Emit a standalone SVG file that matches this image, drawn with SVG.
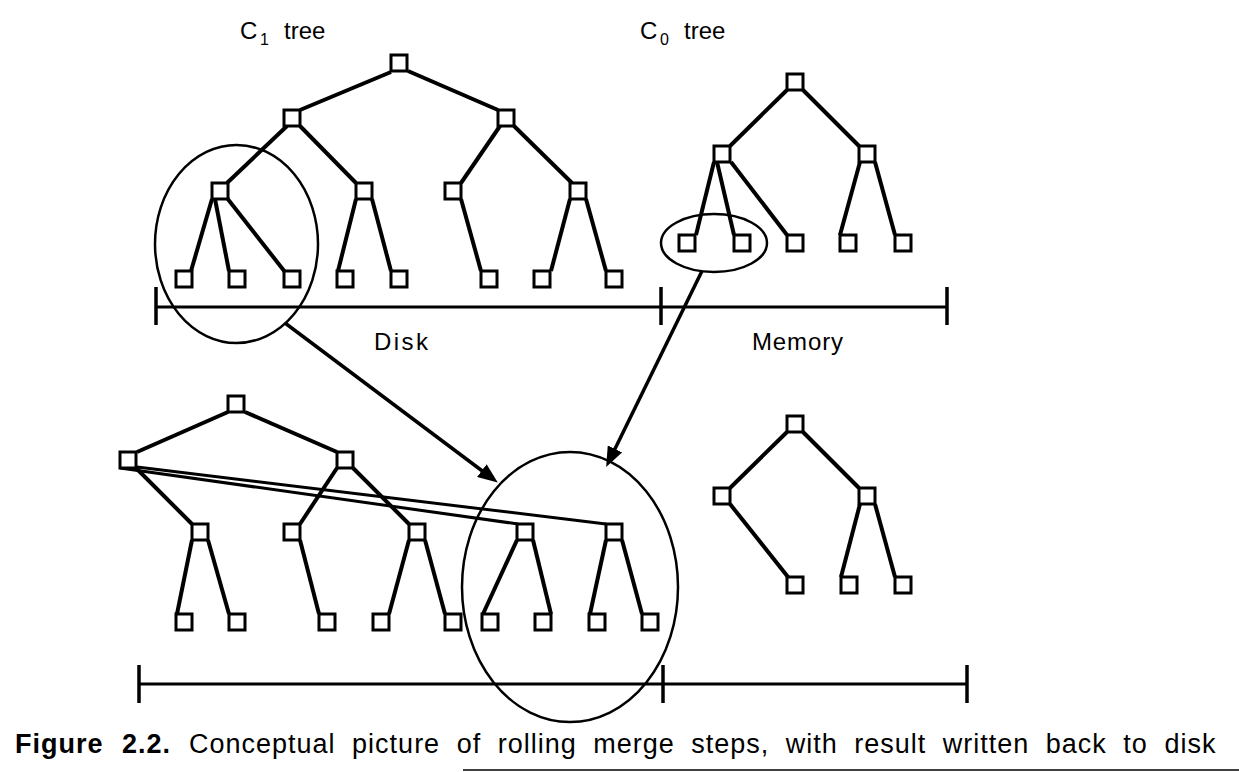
<svg xmlns="http://www.w3.org/2000/svg" width="1239" height="772" viewBox="0 0 1239 772">
<style>
.n{fill:#fff;stroke:#000;stroke-width:3}
.e{stroke:#000;stroke-width:4;stroke-linecap:butt;fill:none}
.e2{stroke:#000;stroke-width:3;fill:none}
.bar{stroke:#000;stroke-width:3;fill:none}
.tick{stroke:#000;stroke-width:3.5;fill:none}
.ell{fill:none;stroke:#000;stroke-width:2.5}
.arr{stroke:#000;stroke-width:3.5;fill:none;marker-end:url(#ah)}
.t{font-family:"Liberation Sans",Arial,sans-serif;font-size:24px;fill:#000}
.sub{font-family:"Liberation Sans",Arial,sans-serif;font-size:16px;fill:#000}
.cap{font-family:"Liberation Sans",Arial,sans-serif;font-size:27px;fill:#000;letter-spacing:1px}
</style>
<defs>
<marker id="ah" markerUnits="userSpaceOnUse" markerWidth="20" markerHeight="16" viewBox="0 0 20 16" refX="9" refY="8" orient="auto">
<path d="M0,0 L20,8 L0,16 z" fill="#000"/>
</marker>
</defs>

<g id="labels">
<text class="t" x="240" y="39">C</text><text class="sub" x="260" y="45">1</text><text class="t" x="284" y="39">tree</text>
<text class="t" x="640" y="39">C</text><text class="sub" x="660" y="45">0</text><text class="t" x="684" y="39">tree</text>
<text class="t" x="374" y="350" textLength="54" lengthAdjust="spacing">Disk</text>
<text class="t" x="752" y="350" textLength="91" lengthAdjust="spacing">Memory</text>
</g>

<g id="connectors">
<!-- top C1 tree -->
<line class="e" x1="391" y1="72" x2="300" y2="110"/>
<line class="e" x1="408" y1="71" x2="498" y2="110"/>
<line class="e" x1="287" y1="126" x2="227" y2="183"/>
<line class="e" x1="300" y1="126" x2="356" y2="183"/>
<line class="e" x1="500" y1="126" x2="461" y2="183"/>
<line class="e" x1="514" y1="126" x2="572" y2="183"/>
<line class="e" x1="212" y1="199" x2="191" y2="271"/>
<line class="e" x1="215" y1="199" x2="229" y2="271"/>
<line class="e" x1="227" y1="198" x2="285" y2="272"/>
<line class="e" x1="356" y1="199" x2="338" y2="271"/>
<line class="e" x1="372" y1="199" x2="391" y2="271"/>
<line class="e" x1="461" y1="199" x2="481" y2="271"/>
<line class="e" x1="570" y1="199" x2="551" y2="271"/>
<line class="e" x1="586" y1="199" x2="606" y2="271"/>
<!-- top C0 tree -->
<line class="e" x1="787" y1="90" x2="730" y2="146"/>
<line class="e" x1="803" y1="90" x2="859" y2="146"/>
<line class="e" x1="714" y1="162" x2="696" y2="235"/>
<line class="e" x1="717" y1="162" x2="734" y2="235"/>
<line class="e" x1="731" y1="162" x2="787" y2="235"/>
<line class="e" x1="860" y1="162" x2="840" y2="235"/>
<line class="e" x1="875" y1="162" x2="895" y2="235"/>
<!-- bottom merged tree -->
<line class="e" x1="228" y1="412" x2="137" y2="452"/>
<line class="e" x1="245" y1="412" x2="337" y2="452"/>
<line class="e" x1="136" y1="468" x2="192" y2="524"/>
<line class="e2" x1="120" y1="468" x2="518" y2="524"/>
<line class="e2" x1="137" y1="467" x2="606" y2="524"/>
<line class="e" x1="337" y1="468" x2="300" y2="524"/>
<line class="e" x1="353" y1="468" x2="409" y2="524"/>
<line class="e" x1="192" y1="540" x2="177" y2="614"/>
<line class="e" x1="208" y1="540" x2="229" y2="614"/>
<line class="e" x1="300" y1="540" x2="319" y2="614"/>
<line class="e" x1="409" y1="540" x2="389" y2="614"/>
<line class="e" x1="425" y1="540" x2="445" y2="614"/>
<line class="e" x1="517" y1="540" x2="483" y2="614"/>
<line class="e" x1="533" y1="540" x2="551" y2="614"/>
<line class="e" x1="606" y1="540" x2="590" y2="614"/>
<line class="e" x1="622" y1="540" x2="642" y2="614"/>
<!-- bottom C0 tree -->
<line class="e" x1="787" y1="432" x2="730" y2="488"/>
<line class="e" x1="803" y1="432" x2="859" y2="488"/>
<line class="e" x1="730" y1="504" x2="788" y2="577"/>
<line class="e" x1="860" y1="504" x2="841" y2="577"/>
<line class="e" x1="875" y1="504" x2="895" y2="577"/>
<!-- arrows -->
<line class="arr" x1="285" y1="323" x2="489" y2="476"/>
<line class="arr" x1="702" y1="271" x2="611" y2="457"/>
</g>

<g id="scales">
<line class="bar" x1="156" y1="307" x2="947" y2="307"/>
<line class="tick" x1="156" y1="287" x2="156" y2="325"/>
<line class="tick" x1="661" y1="287" x2="661" y2="325"/>
<line class="tick" x1="947" y1="287" x2="947" y2="325"/>
<line class="bar" x1="139" y1="684" x2="967" y2="684"/>
<line class="tick" x1="139" y1="665" x2="139" y2="703"/>
<line class="tick" x1="663" y1="665" x2="663" y2="703"/>
<line class="tick" x1="967" y1="665" x2="967" y2="703"/>
</g>

<g id="c1-tree">
<g id="c1-root"><rect class="n" x="391" y="55" width="16" height="16"/></g>
<g id="c1-a"><rect class="n" x="284" y="110" width="16" height="16"/></g>
<g id="c1-b"><rect class="n" x="498" y="110" width="16" height="16"/></g>
<g id="c1-a1"><rect class="n" x="212" y="183" width="16" height="16"/></g>
<g id="c1-a2"><rect class="n" x="356" y="183" width="16" height="16"/></g>
<g id="c1-b1"><rect class="n" x="445" y="183" width="16" height="16"/></g>
<g id="c1-b2"><rect class="n" x="570" y="183" width="16" height="16"/></g>
<g id="c1-l1"><rect class="n" x="176" y="271" width="16" height="16"/></g>
<g id="c1-l2"><rect class="n" x="229" y="271" width="16" height="16"/></g>
<g id="c1-l3"><rect class="n" x="284" y="271" width="16" height="16"/></g>
<g id="c1-l4"><rect class="n" x="337" y="271" width="16" height="16"/></g>
<g id="c1-l5"><rect class="n" x="391" y="271" width="16" height="16"/></g>
<g id="c1-l6"><rect class="n" x="481" y="271" width="16" height="16"/></g>
<g id="c1-l7"><rect class="n" x="534" y="271" width="16" height="16"/></g>
<g id="c1-l8"><rect class="n" x="606" y="271" width="16" height="16"/></g>
</g>

<g id="c0-tree">
<g id="c0-root"><rect class="n" x="787" y="74" width="16" height="16"/></g>
<g id="c0-a"><rect class="n" x="714" y="146" width="16" height="16"/></g>
<g id="c0-b"><rect class="n" x="859" y="146" width="16" height="16"/></g>
<g id="c0-l1"><rect class="n" x="679" y="235" width="16" height="16"/></g>
<g id="c0-l2"><rect class="n" x="734" y="235" width="16" height="16"/></g>
<g id="c0-l3"><rect class="n" x="787" y="235" width="16" height="16"/></g>
<g id="c0-l4"><rect class="n" x="840" y="235" width="16" height="16"/></g>
<g id="c0-l5"><rect class="n" x="895" y="235" width="16" height="16"/></g>
</g>

<g id="merged-tree">
<g id="m-root"><rect class="n" x="228" y="396" width="16" height="16"/></g>
<g id="m-a"><rect class="n" x="120" y="452" width="16" height="16"/></g>
<g id="m-b"><rect class="n" x="337" y="452" width="16" height="16"/></g>
<g id="m-c1"><rect class="n" x="192" y="524" width="16" height="16"/></g>
<g id="m-c2"><rect class="n" x="284" y="524" width="16" height="16"/></g>
<g id="m-c3"><rect class="n" x="409" y="524" width="16" height="16"/></g>
<g id="m-c4"><rect class="n" x="517" y="524" width="16" height="16"/></g>
<g id="m-c5"><rect class="n" x="606" y="524" width="16" height="16"/></g>
<g id="m-l1"><rect class="n" x="176" y="614" width="16" height="16"/></g>
<g id="m-l2"><rect class="n" x="229" y="614" width="16" height="16"/></g>
<g id="m-l3"><rect class="n" x="319" y="614" width="16" height="16"/></g>
<g id="m-l4"><rect class="n" x="373" y="614" width="16" height="16"/></g>
<g id="m-l5"><rect class="n" x="445" y="614" width="16" height="16"/></g>
<g id="m-l6"><rect class="n" x="482" y="614" width="16" height="16"/></g>
<g id="m-l7"><rect class="n" x="535" y="614" width="16" height="16"/></g>
<g id="m-l8"><rect class="n" x="589" y="614" width="16" height="16"/></g>
<g id="m-l9"><rect class="n" x="642" y="614" width="16" height="16"/></g>
</g>

<g id="c0-after">
<g id="n-root"><rect class="n" x="787" y="416" width="16" height="16"/></g>
<g id="n-a"><rect class="n" x="714" y="488" width="16" height="16"/></g>
<g id="n-b"><rect class="n" x="859" y="488" width="16" height="16"/></g>
<g id="n-l1"><rect class="n" x="787" y="577" width="16" height="16"/></g>
<g id="n-l2"><rect class="n" x="841" y="577" width="16" height="16"/></g>
<g id="n-l3"><rect class="n" x="895" y="577" width="16" height="16"/></g>
</g>

<g id="ellipses">
<ellipse class="ell" cx="236.5" cy="244" rx="81.5" ry="99"/>
<ellipse class="ell" cx="714" cy="243" rx="53" ry="29"/>
<ellipse class="ell" cx="570" cy="587" rx="108" ry="135"/>
</g>

<g id="caption">
<text class="cap" x="15" y="753" font-weight="bold" word-spacing="10">Figure 2.2.</text>
<text class="cap" x="189" y="753" word-spacing="8">Conceptual picture of rolling merge steps, with result written back to disk</text>
<line x1="463" y1="770" x2="1239" y2="770" stroke="#000" stroke-width="1.5"/>
</g>
</svg>
